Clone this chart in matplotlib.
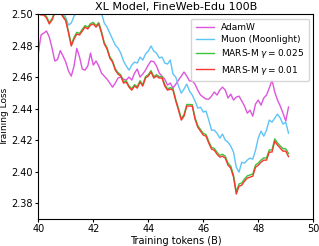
import numpy as np
import matplotlib
matplotlib.use('Agg')
import matplotlib.pyplot as plt

# training tokens (B), shared by all runs
tokens = np.round(np.arange(40.0, 49.15, 0.1), 1)

# losses (values above 2.50 get clipped by the axes)
loss_adamw = [
    2.4750, 2.4867, 2.4879, 2.4892, 2.4854, 2.4784, 2.4702, 2.4711, 2.4768, 2.4733,
    2.4695, 2.4638, 2.4606, 2.4670, 2.4782, 2.4727, 2.4651, 2.4644, 2.4670, 2.4752,
    2.4676, 2.4702, 2.4670, 2.4625, 2.4606, 2.4587, 2.4562, 2.4536, 2.4562, 2.4594,
    2.4600, 2.4587, 2.4581, 2.4600, 2.4581, 2.4625, 2.4651, 2.4600, 2.4619, 2.4644,
    2.4676, 2.4702, 2.4698, 2.4670, 2.4625, 2.4606, 2.4587, 2.4549, 2.4562, 2.4530,
    2.4555, 2.4581, 2.4606, 2.4632, 2.4606, 2.4575, 2.4575, 2.4555, 2.4517, 2.4486,
    2.4473, 2.4460, 2.4460, 2.4479, 2.4505, 2.4486, 2.4517, 2.4536, 2.4517, 2.4467,
    2.4492, 2.4454, 2.4473, 2.4479, 2.4448, 2.4416, 2.4371, 2.4390, 2.4352, 2.4429,
    2.4454, 2.4422, 2.4467, 2.4486, 2.4530, 2.4581, 2.4505, 2.4454, 2.4416, 2.4371,
    2.4321, 2.4410]

loss_muon = [
    2.5050, 2.5080, 2.5070, 2.5060, 2.5090, 2.5100, 2.5060, 2.5050, 2.5040, 2.5030,
    2.4975, 2.4930, 2.4943, 2.4987, 2.5010, 2.5030, 2.5050, 2.5040, 2.5060, 2.5050,
    2.5040, 2.5030, 2.5010, 2.5005, 2.4943, 2.4917, 2.4879, 2.4841, 2.4803, 2.4784,
    2.4752, 2.4702, 2.4670, 2.4644, 2.4676, 2.4695, 2.4689, 2.4727, 2.4708, 2.4746,
    2.4765, 2.4797, 2.4765, 2.4752, 2.4721, 2.4727, 2.4689, 2.4683, 2.4708, 2.4619,
    2.4600, 2.4543, 2.4498, 2.4524, 2.4555, 2.4511, 2.4486, 2.4448, 2.4403, 2.4409,
    2.4378, 2.4384, 2.4327, 2.4263, 2.4263, 2.4244, 2.4213, 2.4238, 2.4200, 2.4187,
    2.4162, 2.4124, 2.4028, 2.3997, 2.4060, 2.4054, 2.4073, 2.4086, 2.4079, 2.4136,
    2.4213, 2.4257, 2.4225, 2.4263, 2.4327, 2.4314, 2.4340, 2.4365, 2.4340, 2.4302,
    2.4314, 2.4244]

loss_mars_025 = [
    2.5010, 2.5002, 2.5003, 2.4984, 2.4946, 2.4970, 2.5014, 2.5038, 2.5018, 2.4990,
    2.4965, 2.4888, 2.4805, 2.4852, 2.4884, 2.4877, 2.4903, 2.4927, 2.4916, 2.4940,
    2.4947, 2.4926, 2.4946, 2.4888, 2.4818, 2.4787, 2.4730, 2.4703, 2.4653, 2.4628,
    2.4614, 2.4571, 2.4577, 2.4544, 2.4526, 2.4552, 2.4539, 2.4577, 2.4552, 2.4603,
    2.4615, 2.4641, 2.4603, 2.4615, 2.4603, 2.4603, 2.4552, 2.4526, 2.4533, 2.4526,
    2.4457, 2.4400, 2.4337, 2.4362, 2.4426, 2.4426, 2.4425, 2.4343, 2.4292, 2.4267,
    2.4243, 2.4236, 2.4192, 2.4154, 2.4148, 2.4123, 2.4104, 2.4110, 2.4098, 2.4054,
    2.4035, 2.3978, 2.3872, 2.3922, 2.3928, 2.3954, 2.3973, 2.3979, 2.3985, 2.4042,
    2.4055, 2.4074, 2.4087, 2.4087, 2.4138, 2.4138, 2.4208, 2.4182, 2.4163, 2.4145,
    2.4145, 2.4115]

loss_mars_001 = [
    2.5003, 2.4994, 2.4994, 2.4975, 2.4937, 2.4962, 2.5006, 2.5030, 2.5010, 2.4981,
    2.4956, 2.4879, 2.4797, 2.4841, 2.4873, 2.4867, 2.4892, 2.4917, 2.4905, 2.4930,
    2.4937, 2.4917, 2.4937, 2.4879, 2.4810, 2.4778, 2.4721, 2.4695, 2.4644, 2.4619,
    2.4606, 2.4562, 2.4568, 2.4536, 2.4517, 2.4543, 2.4530, 2.4568, 2.4543, 2.4594,
    2.4606, 2.4632, 2.4594, 2.4606, 2.4594, 2.4594, 2.4543, 2.4517, 2.4524, 2.4517,
    2.4448, 2.4390, 2.4327, 2.4352, 2.4416, 2.4416, 2.4416, 2.4333, 2.4282, 2.4257,
    2.4232, 2.4225, 2.4181, 2.4143, 2.4136, 2.4111, 2.4092, 2.4098, 2.4086, 2.4041,
    2.4022, 2.3965, 2.3858, 2.3908, 2.3914, 2.3940, 2.3959, 2.3965, 2.3971, 2.4028,
    2.4041, 2.4060, 2.4073, 2.4073, 2.4124, 2.4124, 2.4194, 2.4168, 2.4149, 2.4130,
    2.4130, 2.4095]

runs = [
    ('AdamW', loss_adamw, '#dd55dd'),
    ('Muon (Moonlight)', loss_muon, '#5ec4f7'),
    (r'MARS-M $\gamma = 0.025$', loss_mars_025, '#3dc43d'),
    (r'MARS-M $\gamma = 0.01$', loss_mars_001, '#f5392e'),
]

fig = plt.figure(figsize=(3.19, 2.46), dpi=100)
ax = fig.add_axes([0.120, 0.110, 0.862, 0.833])

for label, loss, color in runs:
    ax.plot(tokens, loss, color=color, lw=1.0, label=label)

ax.set_xlim(40, 50)
ax.set_ylim(2.37, 2.50)
ax.set_xticks(np.arange(40, 51, 2))
ax.set_yticks([2.38, 2.40, 2.42, 2.44, 2.46, 2.48, 2.50])
ax.tick_params(labelsize=7, length=2.5, pad=1.5)
ax.set_xlabel('Training tokens (B)', fontsize=7, labelpad=1)
ax.set_ylabel('Training Loss', fontsize=6.5)
ax.yaxis.set_label_coords(-0.105, 0.5)
ax.set_title('XL Model, FineWeb-Edu 100B', fontsize=8, pad=3)
ax.legend(loc='upper right', fontsize=6.5, handlelength=2.0, borderpad=0.5,
          labelspacing=0.35, handletextpad=0.8)

fig.savefig('out.png', dpi=100)
